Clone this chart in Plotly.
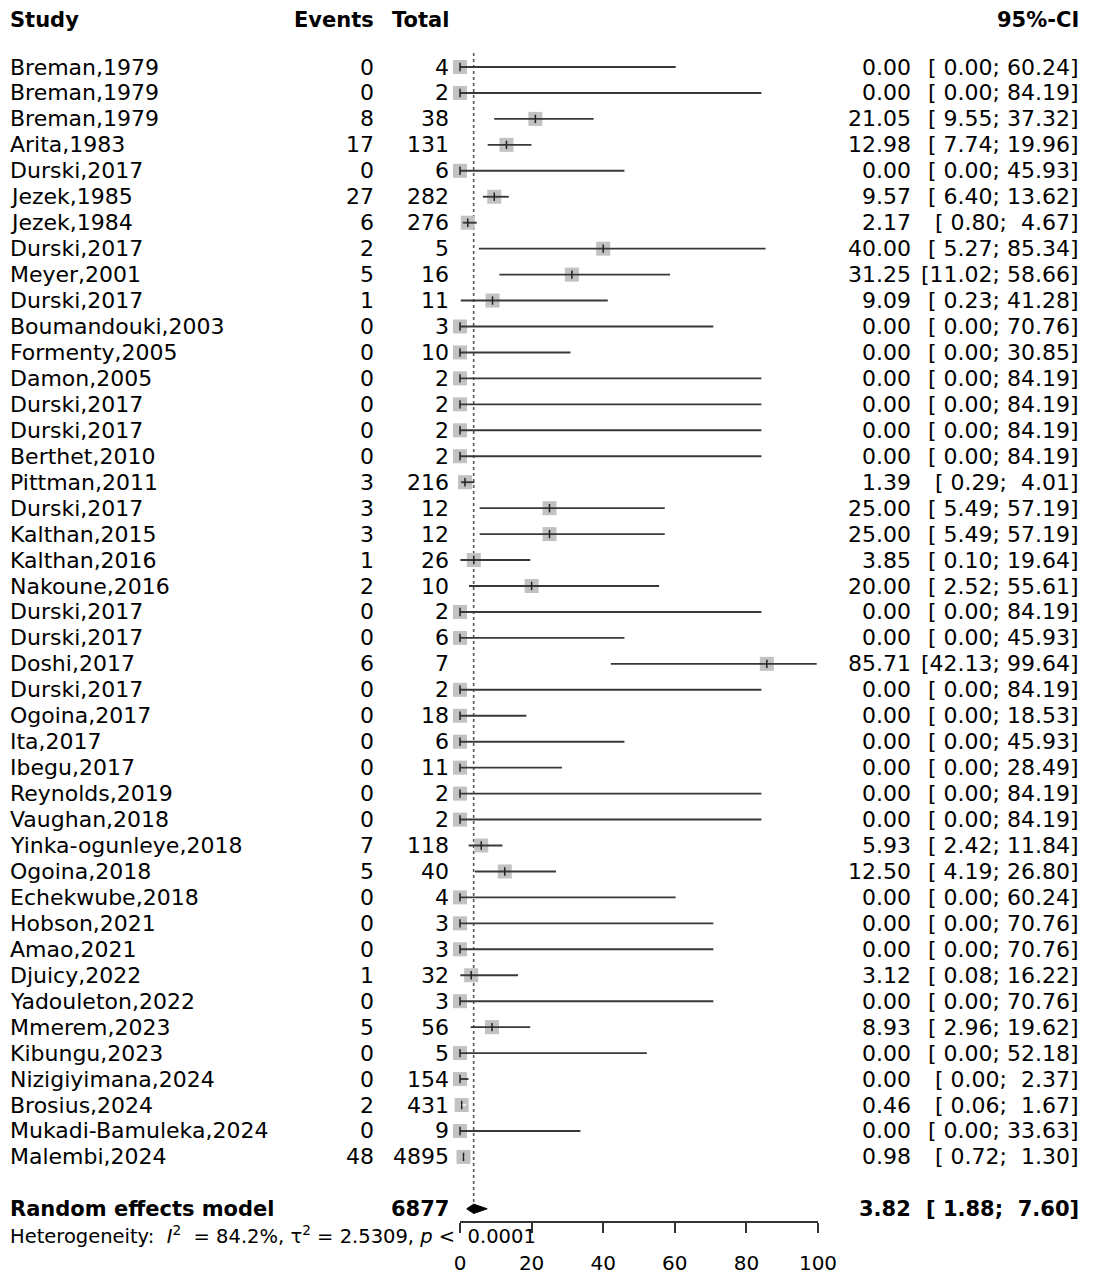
import plotly.graph_objects as go

studies = ["Breman,1979", "Breman,1979", "Breman,1979", "Arita,1983", "Durski,2017",
           "Jezek,1985", "Jezek,1984", "Durski,2017", "Meyer,2001", "Durski,2017",
           "Boumandouki,2003", "Formenty,2005", "Damon,2005", "Durski,2017", "Durski,2017",
           "Berthet,2010", "Pittman,2011", "Durski,2017", "Kalthan,2015", "Kalthan,2016",
           "Nakoune,2016", "Durski,2017", "Durski,2017", "Doshi,2017", "Durski,2017",
           "Ogoina,2017", "Ita,2017", "Ibegu,2017", "Reynolds,2019", "Vaughan,2018",
           "Yinka-ogunleye,2018", "Ogoina,2018", "Echekwube,2018", "Hobson,2021", "Amao,2021",
           "Djuicy,2022", "Yadouleton,2022", "Mmerem,2023", "Kibungu,2023", "Nizigiyimana,2024",
           "Brosius,2024", "Mukadi-Bamuleka,2024", "Malembi,2024"]
events = [0, 0, 8, 17, 0, 27, 6, 2, 5, 1, 0, 0, 0, 0, 0, 0, 3, 3, 3, 1, 2, 0, 0, 6, 0,
          0, 0, 0, 0, 0, 7, 5, 0, 0, 0, 1, 0, 5, 0, 0, 2, 0, 48]
totals = [4, 2, 38, 131, 6, 282, 276, 5, 16, 11, 3, 10, 2, 2, 2, 2, 216, 12, 12, 26, 10, 2, 6, 7, 2,
          18, 6, 11, 2, 2, 118, 40, 4, 3, 3, 32, 3, 56, 5, 154, 431, 9, 4895]
est = [0.00, 0.00, 21.05, 12.98, 0.00, 9.57, 2.17, 40.00, 31.25, 9.09, 0.00, 0.00, 0.00, 0.00, 0.00,
       0.00, 1.39, 25.00, 25.00, 3.85, 20.00, 0.00, 0.00, 85.71, 0.00, 0.00, 0.00, 0.00, 0.00, 0.00,
       5.93, 12.50, 0.00, 0.00, 0.00, 3.12, 0.00, 8.93, 0.00, 0.00, 0.46, 0.00, 0.98]
lower = [0.00, 0.00, 9.55, 7.74, 0.00, 6.40, 0.80, 5.27, 11.02, 0.23, 0.00, 0.00, 0.00, 0.00, 0.00,
         0.00, 0.29, 5.49, 5.49, 0.10, 2.52, 0.00, 0.00, 42.13, 0.00, 0.00, 0.00, 0.00, 0.00, 0.00,
         2.42, 4.19, 0.00, 0.00, 0.00, 0.08, 0.00, 2.96, 0.00, 0.00, 0.06, 0.00, 0.72]
upper = [60.24, 84.19, 37.32, 19.96, 45.93, 13.62, 4.67, 85.34, 58.66, 41.28, 70.76, 30.85, 84.19,
         84.19, 84.19, 84.19, 4.01, 57.19, 57.19, 19.64, 55.61, 84.19, 45.93, 99.64, 84.19, 18.53,
         45.93, 28.49, 84.19, 84.19, 11.84, 26.80, 60.24, 70.76, 70.76, 16.22, 70.76, 19.62, 52.18,
         2.37, 1.67, 33.63, 1.30]

pooled_total = 6877
pooled_est, pooled_lo, pooled_hi = 3.82, 1.88, 7.60
NB = "\u00a0"
heterogeneity = ("Heterogeneity: " + NB + "<i>I</i><sup>2</sup> " + NB + "= 84.2%, "
                 + "τ<sup>2</sup> = 2.5309, <i>p</i> < " + NB + "0.0001")
x_ticks = [0, 20, 40, 60, 80, 100]

W, H = 1101, 1280
BODY = 8                 # page margin around the figure
ROW0, STEP = 67.0 - BODY, 25.95
FONT = "DejaVu Sans, Verdana, sans-serif"
FS = 22
FSB = 21

def row_of_px(py):
    return (py - BODY - ROW0) / STEP

def px_x(px):
    return (px - BODY) / W

n = len(studies)
rows = list(range(n))
pooled_row = n + 1
het_row = n + 2

fig = go.Figure()

# squares
fig.add_trace(go.Scatter(x=est, y=rows, mode="markers",
                         marker=dict(symbol="square", size=14, color="#C2C2C2", line=dict(width=0)),
                         cliponaxis=False, showlegend=False, hoverinfo="skip"))

# CI lines (white when completely inside square)
px_per_unit = (818 - 460) / 100.0
half = 7.0 / px_per_unit
dx, dy, wx, wy = [], [], [], []
for i in range(n):
    inside = (lower[i] >= est[i] - half) and (upper[i] <= est[i] + half)
    if inside:
        wx += [lower[i], upper[i], None]
        wy += [i, i, None]
    else:
        dx += [lower[i], upper[i], None]
        dy += [i, i, None]
fig.add_trace(go.Scatter(x=dx, y=dy, mode="lines", line=dict(color="#383838", width=1.9),
                         cliponaxis=False, showlegend=False, hoverinfo="skip"))
fig.add_trace(go.Scatter(x=wx, y=wy, mode="lines", line=dict(color="#FFFFFF", width=1.6),
                         cliponaxis=False, showlegend=False, hoverinfo="skip"))
# estimate tick
fig.add_trace(go.Scatter(x=est, y=rows, mode="markers",
                         marker=dict(symbol="line-ns-open", size=6, color="#222222",
                                     line=dict(color="#222222", width=1.5)),
                         cliponaxis=False, showlegend=False, hoverinfo="skip"))

# diamond
dh = 0.18
fig.add_trace(go.Scatter(x=[pooled_lo, pooled_est, pooled_hi, pooled_est, pooled_lo],
                         y=[pooled_row, pooled_row - dh, pooled_row, pooled_row + dh, pooled_row],
                         mode="lines", fill="toself", fillcolor="black",
                         line=dict(color="black", width=1), cliponaxis=False,
                         showlegend=False, hoverinfo="skip"))

# dotted reference line at pooled estimate
fig.add_shape(type="line", xref="x", yref="y", x0=pooled_est, x1=pooled_est,
              y0=row_of_px(53), y1=row_of_px(1203),
              line=dict(color="#555555", width=1.6, dash="dot"), layer="below")

ann = []
def txt(xpx, row, s, anchor, bold=False, size=FS):
    if bold:
        s = "<b>" + s + "</b>"
        size = FSB
    pad = -2 if anchor == "left" else 3
    ann.append(dict(x=px_x(xpx + pad), xref="paper", y=row, yref="y", text=s, showarrow=False,
                    xanchor=anchor, yanchor="middle", font=dict(family=FONT, size=size, color="black")))

hdr = row_of_px(20)
txt(10, hdr, "Study", "left", True)
txt(373, hdr, "Events", "right", True)
txt(448, hdr, "Total", "right", True)
txt(1078, hdr, "95%-CI", "right", True)

for i in range(n):
    txt(10, i, studies[i], "left")
    txt(373, i, str(events[i]), "right")
    txt(448, i, str(totals[i]), "right")
    txt(910, i, f"{est[i]:.2f}", "right")
    txt(1078, i, f"[{lower[i]:5.2f}; {upper[i]:5.2f}]", "right")

txt(10, pooled_row, "Random effects model", "left", True)
txt(448, pooled_row, str(pooled_total), "right", True)
txt(910, pooled_row, f"{pooled_est:.2f}", "right", True)
txt(1078, pooled_row, f"[{pooled_lo:5.2f}; {pooled_hi:5.2f}]", "right", True)
txt(10, het_row, heterogeneity, "left", size=19.5)

fig.update_layout(annotations=ann)

top_row = -ROW0 / STEP
bot_row = (H - ROW0) / STEP
fig.update_layout(
    width=W, height=H, margin=dict(l=0, r=0, t=0, b=0, pad=0, autoexpand=False),
    paper_bgcolor="white", plot_bgcolor="white",
    xaxis=dict(domain=[px_x(460), px_x(818)], range=[0, 100], anchor="free",
               position=1 - (1222 - BODY) / H,
               showgrid=False, zeroline=False, showline=True, linecolor="#333333", linewidth=1.5,
               ticks="outside", ticklen=10, tickwidth=1.5, tickcolor="#333333",
               tickvals=x_ticks, ticktext=[str(t) for t in x_ticks], ticklabelstandoff=13,
               tickfont=dict(family=FONT, size=20, color="black"), automargin=False),
    yaxis=dict(domain=[0, 1], range=[bot_row, top_row], visible=False, automargin=False),
    showlegend=False,
)

fig.write_html("out.html")
